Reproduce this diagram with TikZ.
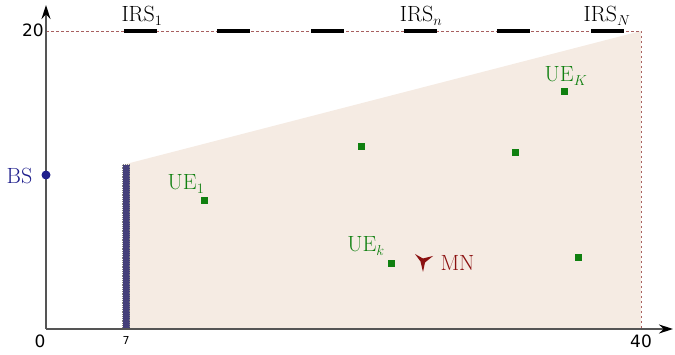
\documentclass[tikz,border=0pt]{standalone}
\usepackage{fontspec}
\newfontfamily\numfont{DejaVu Sans}
\usetikzlibrary{arrows.meta}
\definecolor{fillc}{HTML}{F5EBE3}
\definecolor{dashc}{HTML}{A86060}
\definecolor{barc}{HTML}{45407A}
\definecolor{bsc}{HTML}{1E1E8C}
\definecolor{uec}{HTML}{108010}
\definecolor{mnc}{HTML}{8B1010}
\definecolor{axc}{HTML}{555555}
\tikzset{
  axis/.style={draw=axc, line width=1.3pt, -{Stealth[length=14pt,width=9pt,black]}},
  bound/.style={draw=dashc, line width=0.9pt, dash pattern=on 2.5pt off 2.5pt},
  irs/.style={draw=black, line width=4pt},
  ue/.style={fill=uec, draw=none, minimum size=7pt, inner sep=0pt, rectangle},
  uelab/.style={text=uec, font=\fontsize{22}{24}\selectfont, inner sep=0pt},
  lab/.style={font=\fontsize{22}{24}\selectfont, inner sep=0pt},
  num/.style={font=\numfont\fontsize{17}{19}\selectfont, inner sep=0pt},
}
\begin{document}
\begin{tikzpicture}[x=1pt,y=-1pt]
\useasboundingbox (0,0) rectangle (675,355);
% coverage area
\fill[fillc] (126,329) -- (126,164) -- (641,31) -- (641,329) -- cycle;
% boundary
\coordinate (tl) at (46,31);
\coordinate (tr) at (641,31);
\coordinate (br) at (641,329);
\draw[bound] (tl) -- (tr) -- (br);
% IRS segments
\foreach \i/\x in {1/124,2/217,3/311,4/404,5/497,6/591}{
  \coordinate (irsa\i) at (\x,31);
  \coordinate (irsb\i) at (\x+33,31);
  \draw[irs] (irsa\i) -- (irsb\i);
}
\node[lab, anchor=base] (irs1) at (142,22) {IRS$_1$};
\node[lab, anchor=base] (irsn) at (421,22) {IRS$_n$};
\node[lab, anchor=base] (irsN) at (607,22) {IRS$_N$};
% bar
\node[draw=gray, densely dotted, line width=0.8pt, fill=barc, minimum width=7pt, minimum height=164pt, inner sep=0pt, anchor=south] (bar) at (126,329) {};
% axes
\coordinate (o) at (46,329);
\coordinate (yend) at (46,5);
\coordinate (xend) at (673,329);
\draw[axis] (o) -- (yend);
\draw[axis] (o) -- (xend);
\node[num, anchor=base] (n20) at (33,37) {20};
\node[num, anchor=base] (n0) at (40,348) {0};
\node[num, anchor=base] (n40) at (641,348) {40};
\node[font=\numfont\fontsize{11}{12}\selectfont, inner sep=0pt, anchor=base] (n7) at (126,345) {7};
% BS
\node[circle, fill=bsc, inner sep=0pt, minimum size=9pt] (bs) at (46,175) {};
\node[lab, text=bsc, anchor=base] (bslab) at (19.5,184) {BS};
% UEs
\node[ue] (ue1) at (204,201) {};
\node[ue] (ue2) at (361,147) {};
\node[ue] (uek) at (391,264) {};
\node[ue] (ue4) at (515,153) {};
\node[ue] (ueK) at (564,92) {};
\node[ue] (ue6) at (578,258) {};
\node[uelab, anchor=base] (ue1lab) at (186,190) {UE$_1$};
\node[uelab, anchor=base] (uekl) at (366,252) {UE$_k$};
\node[uelab, anchor=base] (ueKl) at (566,82) {UE$_K$};
% MN
\coordinate (mn) at (423,261);
\fill[mnc] (415,254) -- (423,258.5) -- (433,256) -- (425,262.5) -- (423,272) -- (420.5,261.5) -- cycle;
\node[lab, text=mnc, anchor=base] (mnlab) at (457.5,271) {MN};
\end{tikzpicture}
\end{document}
